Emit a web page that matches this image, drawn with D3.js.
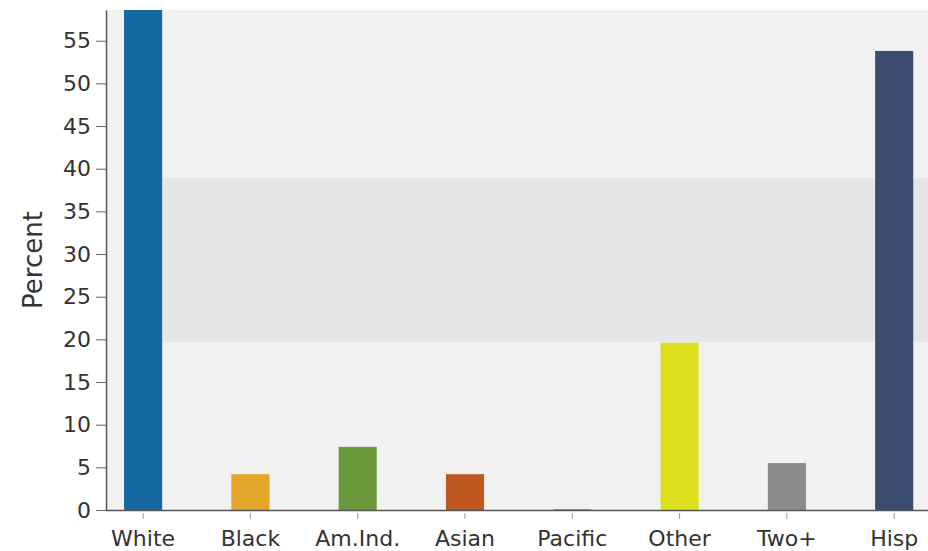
<!DOCTYPE html>
<html>
<head>
<meta charset="utf-8">
<script src="https://cdn.jsdelivr.net/npm/d3@7"></script>
<style>
body{margin:0;background:#fff;}
text{font-family:"DejaVu Sans",Verdana,sans-serif;}
</style>
</head>
<body>
<div id="chart"></div>
<script>
var categories = ["White","Black","Am.Ind.","Asian","Pacific","Other","Two+","Hisp"];
var values = [58.6, 4.2, 7.4, 4.2, 0.1, 19.6, 5.5, 53.8];
var colors = ["#16699e","#e2a72a","#6a9a3b","#bf5723","#8a8a8a","#dde01f","#8b8b89","#3b4c70"];
var yTicks = [0,5,10,15,20,25,30,35,40,45,50,55];
var band = [19.7, 38.9]; //shaded reference range

var width = 928, height = 551;
var margin = {top:10, right:0, bottom:41, left:106};

var svg = d3.select("#chart").append("svg").attr("width",width).attr("height",height);

var x = d3.scaleBand().domain(categories)
	.range([margin.left, width - margin.right])
	.paddingInner(0.645).paddingOuter(0.153).align(0.55);
var y = d3.scaleLinear().domain([0, 58.6]).range([height - margin.bottom, margin.top]);

//plot background
svg.append("rect")
	.attr("x", margin.left+1).attr("y", y(58.6))
	.attr("width", width - margin.right - margin.left).attr("height", y(0) - y(58.6))
	.attr("fill","#f1f1f1");

//reference band, starts after first bar
svg.append("rect")
	.attr("x", x(categories[0]) + x.bandwidth()).attr("y", y(band[1]))
	.attr("width", width - margin.right - x(categories[0]) - x.bandwidth())
	.attr("height", y(band[0]) - y(band[1]))
	.attr("fill","#e6e6e6");

svg.append("g").selectAll("rect.bar").data(values).enter().append("rect")
	.classed("bar",true)
	.attr("x", function(d,i){return x(categories[i])})
	.attr("y", function(d){return y(d)})
	.attr("width", x.bandwidth())
	.attr("height", function(d){return y(0) - y(d)})
	.attr("fill", function(d,i){return colors[i]});

//y axis
var ya = svg.append("g").attr("transform","translate("+margin.left+",0)")
	.call(d3.axisLeft(y).tickValues(yTicks).tickSize(10).tickSizeOuter(0).tickPadding(5));
ya.select(".domain").attr("stroke","#555").attr("stroke-width",1.5);
ya.selectAll(".tick line").attr("stroke","#666");
ya.selectAll("text").attr("font-size","22px").attr("fill","#333").attr("font-family","DejaVu Sans, Verdana, sans-serif");

//x axis
var xa = svg.append("g").attr("transform","translate(0,"+y(0)+")")
	.call(d3.axisBottom(x).tickSize(6).tickSizeOuter(0).tickPadding(14));
xa.select(".domain").attr("stroke","#555").attr("stroke-width",1.5)
	.attr("d","M"+margin.left+",0.5H"+width);
xa.selectAll(".tick line").attr("stroke","#999").attr("y1",3).attr("y2",9);
xa.selectAll("text").attr("font-size","22px").attr("fill","#333").attr("font-family","DejaVu Sans, Verdana, sans-serif");

svg.append("text")
	.attr("transform","translate(42,"+y(29.3)+") rotate(-90)")
	.attr("text-anchor","middle")
	.attr("font-size","26px").attr("fill","#333")
	.text("Percent");
</script>
</body>
</html>
